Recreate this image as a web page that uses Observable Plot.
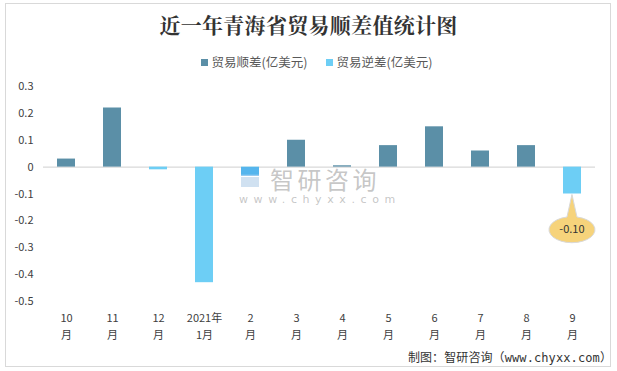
<!DOCTYPE html>
<html>
<head>
<meta charset="utf-8">
<script src="https://cdn.jsdelivr.net/npm/d3@7"></script>
<script src="https://cdn.jsdelivr.net/npm/@observablehq/plot@0.6"></script>
<style>
  html, body { margin: 0; padding: 0; background: #fff; }
  #wrap { position: relative; width: 617px; height: 371px; overflow: hidden; font-family: "Noto Sans CJK SC", sans-serif; }
  #frame { position: absolute; left: 5px; top: 3px; width: 606px; height: 364px; border: 1px solid #d9d9d9; box-sizing: border-box; }
  #title { position: absolute; left: 0; top: 9px; width: 617px; text-align: center; font-size: 21px; font-weight: bold; color: #333; font-family: "Noto Serif CJK SC", "Noto Sans CJK SC", serif; letter-spacing: 0.3px; }
  #legend { position: absolute; left: 8px; top: 52px; width: 617px; text-align: center; font-size: 12.5px; color: #595959; }
  #legend span.item { margin: 0 9px; white-space: nowrap; }
  #legend i { display: inline-block; width: 7px; height: 7px; margin-right: 4px; vertical-align: 1px; }
  #chart { position: absolute; left: 0; top: 75px; }
  #footer { position: absolute; right: 5px; top: 348px; font-size: 12px; color: #333; font-family: "DejaVu Sans Mono", "Noto Sans CJK SC", monospace; letter-spacing: 0.1px; }
  #wm { position: absolute; left: 238px; top: 164px; pointer-events: none; }
  #wm .cn { position: absolute; left: 32px; top: 3px; font-size: 24px; line-height: 24px; color: rgba(150,150,150,0.55); letter-spacing: 3.5px; white-space: nowrap; }
  #wm .en { position: absolute; left: 1px; top: 30px; font-size: 11px; line-height: 11px; color: rgba(150,150,150,0.55); letter-spacing: 5.6px; white-space: nowrap; font-family: "DejaVu Sans", sans-serif; }
  #wm .l1 { position: absolute; left: 3px; top: 3px; width: 18px; height: 9px; background: rgba(66,160,230,0.55); }
  #wm .l2 { position: absolute; left: 3px; top: 13px; width: 18px; height: 10px; background: rgba(170,200,230,0.55); }
</style>
</head>
<body>
<div id="wrap">
  <div id="frame"></div>
  <div id="title">近一年青海省贸易顺差值统计图</div>
  <div id="legend"></div>
  <div id="chart"></div>
  <div id="wm"><div class="l1"></div><div class="l2"></div><div class="cn">智研咨询</div><div class="en">www.chyxx.com</div></div>
  <div id="footer">制图：智研咨询（www.chyxx.com）</div>
</div>
<script>
const months = ["10月", "11月", "12月", "2021年1月", "2月", "3月", "4月", "5月", "6月", "7月", "8月", "9月"];
const tickLabels = ["10\n月", "11\n月", "12\n月", "2021年\n1月", "2\n月", "3\n月", "4\n月", "5\n月", "6\n月", "7\n月", "8\n月", "9\n月"];
const values = [0.03, 0.22, -0.01, -0.43, -0.03, 0.10, 0.005, 0.08, 0.15, 0.06, 0.08, -0.10];
const seriesNames = ["贸易顺差(亿美元)", "贸易逆差(亿美元)"];
const seriesColors = ["#5b8fa7", "#6dcef5"];
const yTicks = [0.3, 0.2, 0.1, 0, -0.1, -0.2, -0.3, -0.4, -0.5];
const calloutLabel = "-0.10";

const data = months.map((m, i) => ({
  month: m,
  value: values[i],
  series: values[i] >= 0 ? seriesNames[0] : seriesNames[1]
}));

const legend = document.getElementById("legend");
seriesNames.forEach((n, i) => {
  const s = document.createElement("span");
  s.className = "item";
  s.innerHTML = `<i style="background:${seriesColors[i]}"></i>${n}`;
  legend.appendChild(s);
});

const last = data[data.length - 1];
const prev = data[data.length - 2];
const padInner = 0.61;

const callout = (index, scales, values, dimensions) => {
  const ns = "http://www.w3.org/2000/svg";
  const g = document.createElementNS(ns, "g");
  const step = scales.x(last.month) - scales.x(prev.month);
  const bw = step * (1 - padInner);
  const cx = scales.x(last.month) + bw / 2;
  const y0 = scales.y(last.value);
  const cy = y0 + 35;
  const rx = 23, ry = 13;
  const path = document.createElementNS(ns, "path");
  const tipY = y0 + 1;
  const d = `M${cx - 5},${cy - ry + 1.5} L${cx},${tipY} L${cx + 5},${cy - ry + 1.5} A${rx},${ry} 0 1 1 ${cx - 5},${cy - ry + 1.5} Z`;
  path.setAttribute("d", d);
  path.setAttribute("fill", "#f6d37b");
  path.setAttribute("stroke", "#d9d9d9");
  path.setAttribute("stroke-width", "1");
  g.appendChild(path);
  const t = document.createElementNS(ns, "text");
  t.setAttribute("x", cx);
  t.setAttribute("y", cy + 4);
  t.setAttribute("text-anchor", "middle");
  t.setAttribute("font-size", "11");
  t.setAttribute("fill", "#333");
  t.textContent = calloutLabel;
  g.appendChild(t);
  return g;
};

const chart = Plot.plot({
  width: 617,
  height: 275,
  marginLeft: 43,
  marginRight: 22,
  marginTop: 11,
  marginBottom: 49,
  style: { fontFamily: "'Noto Sans CJK SC', sans-serif", fontSize: "11px", color: "#404040", background: "transparent" },
  x: { domain: months, paddingInner: padInner, paddingOuter: padInner / 2, label: null },
  y: { domain: [-0.5, 0.3], label: null },
  color: { domain: seriesNames, range: seriesColors },
  marks: [
    Plot.ruleY([0], { stroke: "#d9d9d9", strokeWidth: 1.3 }),
    Plot.barY(data, { x: "month", y: "value", fill: "series" }),
    Plot.axisY({ ticks: yTicks, tickSize: 0, tickPadding: 10, tickFormat: d => d === 0 ? "0" : d.toFixed(1), fill: "#404040", fontSize: 11 }),
    Plot.axisX({ tickSize: 0, tickPadding: 9, tickFormat: (d, i) => tickLabels[months.indexOf(d)], lineHeight: 1.5, fill: "#404040", fontSize: 11 }),
    callout
  ]
});
document.getElementById("chart").appendChild(chart);
</script>
</body>
</html>
